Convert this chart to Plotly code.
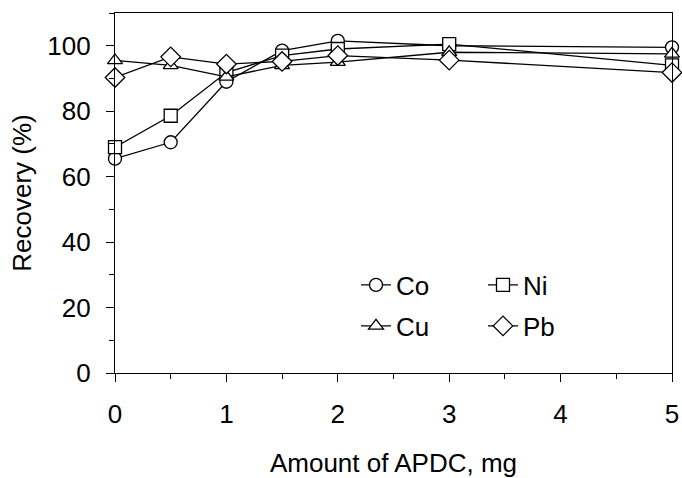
import plotly.graph_objects as go

x_vals = [0, 0.5, 1, 1.5, 2, 3, 5]
co = [65.5, 70.5, 89.0, 98.5, 101.5, 100.0, 99.5]
ni = [69.0, 78.6, 91.8, 97.0, 99.0, 100.5, 94.0]
cu = [95.5, 94.0, 90.5, 94.0, 95.0, 98.0, 97.5]
pb = [90.3, 96.6, 94.4, 95.2, 97.0, 95.6, 91.8]

x_ticks = [0, 1, 2, 3, 4, 5]
y_ticks = [0, 20, 40, 60, 80, 100]

FONT = "Liberation Sans, Arial, sans-serif"
series = [
    ("Co", co, "circle", "legend"),
    ("Ni", ni, "square", "legend2"),
    ("Cu", cu, "triangle-up", "legend3"),
    ("Pb", pb, "diamond", "legend4"),
]

fig = go.Figure()
for name, vals, sym, lg in series:
    fig.add_trace(go.Scatter(
        x=x_vals, y=vals, name=name, mode="lines+markers",
        line=dict(color="black", width=1.3),
        marker=dict(symbol=sym, size=13 if sym != "diamond" else 15, color="white",
                    line=dict(color="black", width=1.3)),
        cliponaxis=False, legend=lg,
    ))

W, H = 682, 478
L, R, T, B = 115, 10, 13, 105
pw, ph = W - L - R, H - T - B

def px_x(p):
    return (p - L) / pw

def px_y(p):
    return (H - B - p) / ph

FS = 26
legfont = dict(family=FONT, size=FS, color="black")
leg_common = dict(font=legfont, bgcolor="rgba(0,0,0,0)", borderwidth=0,
                  xanchor="left", yanchor="middle", itemwidth=30)

fig.update_layout(
    width=W, height=H,
    margin=dict(l=L, r=R, t=T, b=B, autoexpand=False),
    paper_bgcolor="white", plot_bgcolor="white",
    font=dict(family=FONT, size=FS, color="black"),
    showlegend=True,
    legend=dict(x=px_x(356), y=px_y(285), **leg_common),
    legend2=dict(x=px_x(483), y=px_y(285), **leg_common),
    legend3=dict(x=px_x(356), y=px_y(326), **leg_common),
    legend4=dict(x=px_x(483), y=px_y(326), **leg_common),
    xaxis=dict(
        range=[0, 5], tickvals=x_ticks, ticktext=[str(v) for v in x_ticks],
        showline=True, linecolor="black", linewidth=1.3, mirror=True,
        ticks="outside", ticklen=8, tickwidth=1.3, tickcolor="black",
        minor=dict(dtick=0.5, ticks="outside", ticklen=5, tickwidth=1.3, tickcolor="black"),
        showgrid=False, zeroline=False, automargin=False,
        tickfont=dict(family=FONT, size=FS), ticklabelstandoff=10,
        title=dict(text="Amount of APDC, mg", font=dict(family=FONT, size=FS), standoff=26),
    ),
    yaxis=dict(
        range=[0, 110], tickvals=y_ticks, ticktext=[str(v) for v in y_ticks],
        showline=True, linecolor="black", linewidth=1.3, mirror=True,
        ticks="outside", ticklen=8, tickwidth=1.3, tickcolor="black",
        minor=dict(dtick=10, ticks="outside", ticklen=5, tickwidth=1.3, tickcolor="black"),
        showgrid=False, zeroline=False, automargin=False,
        tickfont=dict(family=FONT, size=FS), ticklabelstandoff=10,
        title=dict(text="Recovery (%)", font=dict(family=FONT, size=FS), standoff=8),
    ),
)

fig.write_html(
    "out.html",
    config={"displayModeBar": False},
    post_script="document.body.style.margin='0';document.body.style.overflow='hidden';",
)
